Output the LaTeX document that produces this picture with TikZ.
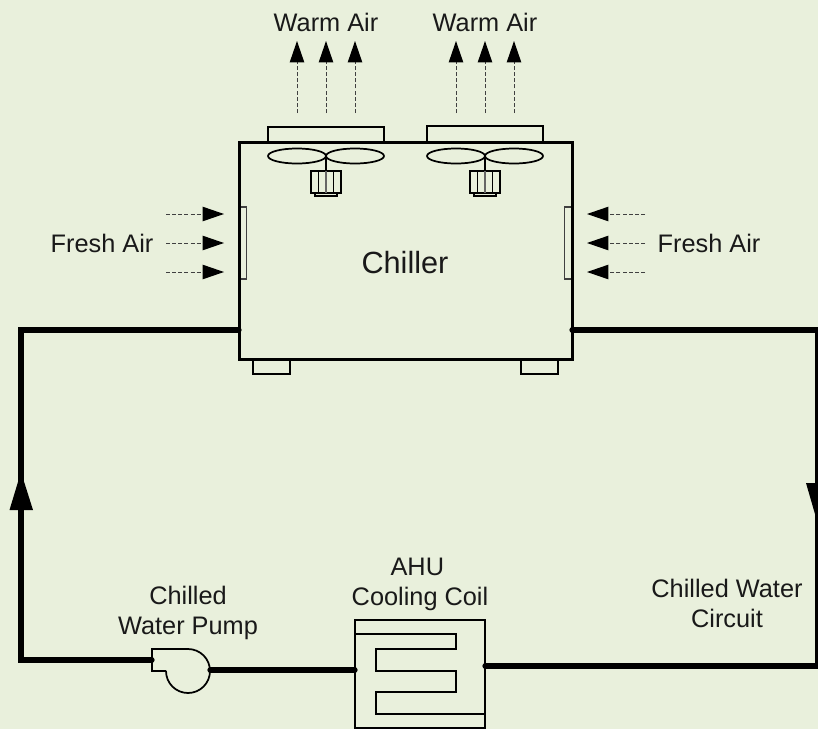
\documentclass[tikz,border=0pt]{standalone}
\usepackage{fontspec}
\setmainfont{Liberation Sans}
\usetikzlibrary{arrows.meta,calc,shapes.geometric}
\definecolor{bg}{HTML}{E9F0DC}
\tikzset{
  x=0.75pt,y=-0.75pt,
  lbl/.style={inner sep=0pt,align=center,font=\fontsize{19pt}{22.5pt}\selectfont,text=black!90},
  heavy/.style={line width=2.25pt,line cap=butt},
  pipe/.style={line width=3.9pt,line cap=round},
  med/.style={line width=1.3pt},
  thin1/.style={line width=0.9pt},
  airflow/.style={line width=0.7pt,dash pattern=on 3pt off 1.6pt,draw=black!75,
     -{Triangle[length=16pt,width=11pt,fill=black,line width=0pt]}},
  boxnode/.style={draw,inner sep=0pt,outer sep=0pt},
  bigtip/.style={fill=black,draw=none},
}
\begin{document}
\begin{tikzpicture}
\useasboundingbox (0,0) rectangle (818,729);
\clip (0,0) rectangle (818,729);
\fill[bg] (0,0) rectangle (818,729);

% feet and caps
\node[boxnode,med,minimum width=27.75pt,minimum height=11.25pt] (footL) at (271.5,366.5) {};
\node[boxnode,med,minimum width=27.75pt,minimum height=11.25pt] (footR) at (539.5,366.5) {};
\node[boxnode,med,minimum width=87pt,minimum height=11.25pt] (capL) at (326,134.5) {};
\node[boxnode,med,minimum width=87pt,minimum height=12pt] (capR) at (485,134) {};
% side panels
\node[boxnode,thin1,draw=black!75,minimum width=5.6pt,minimum height=54pt] (panL) at (243,243) {};
\node[boxnode,thin1,draw=black!75,minimum width=5.6pt,minimum height=54pt] (panR) at (568,243) {};
% chiller body
\node[boxnode,heavy,minimum width=249.75pt,minimum height=162.75pt] (chiller) at (405.5,250.5) {};
\node[lbl,font=\fontsize{23pt}{26pt}\selectfont] (chillerlabel) at (405,263) {Chiller};

% fans
\foreach \n/\c in {A/326,B/485}{
  \node[boxnode,med,shape=ellipse,minimum width=43.5pt,minimum height=11.25pt] (blade\n l) at (\c-29,156) {};
  \node[boxnode,med,shape=ellipse,minimum width=43.5pt,minimum height=11.25pt] (blade\n r) at (\c+29,156) {};
  \node[boxnode,thin1,minimum width=16.5pt,minimum height=2.25pt] (base\n) at (\c,194.5) {};
  \node[boxnode,med,minimum width=22.5pt,minimum height=16.5pt] (motor\n) at (\c,182) {};
  \draw[thin1] (\c-7.5,171) -- (\c-7.5,193);
  \draw[thin1] (\c+7.5,171) -- (\c+7.5,193);
  \draw[thin1,draw=black!60] (\c,171) -- (\c,193);
  \draw[line width=1.4pt] (blade\n l.east) -- (motor\n.north);
}

% warm air arrows
\foreach \n/\c in {1/297,2/326,3/355,4/456,5/485,6/514}{
  \coordinate (ws\n) at (\c,113);
  \coordinate (we\n) at (\c,41);
  \draw[airflow] (ws\n) -- (we\n);
}
% fresh air arrows
\foreach \n/\y in {1/214,2/243,3/272}{
  \coordinate (ls\n) at (166,\y);
  \coordinate (le\n) at (224,\y);
  \draw[airflow] (ls\n) -- (le\n);
  \coordinate (rs\n) at (645,\y);
  \coordinate (re\n) at (587,\y);
  \draw[airflow] (rs\n) -- (re\n);
}

% pump
\coordinate (pumpin) at (152,660);
\coordinate (pumpout) at (210,670);
\draw[med] (166,671) -- (152,671) -- (152,649) -- (188,649) arc[start angle=90,end angle=-180,radius=16.5pt];

% coil
\node[boxnode,med,minimum width=97.5pt,minimum height=81pt] (coil) at (420,674) {};
\draw[med] (355,634) -- (456,634) -- (456,649) -- (376,649) -- (376,671) -- (456,671) -- (456,692) -- (376,692) -- (376,714) -- (485,714);
\coordinate (coilin) at (355,670);
\coordinate (coilout) at (485,666);

% pipes
\coordinate (chL) at (239,330);
\coordinate (chR) at (572,330);
\coordinate (cornerTL) at (21,330);
\coordinate (cornerBL) at (21,660);
\coordinate (cornerTR) at (817.5,330);
\coordinate (cornerBR) at (817.5,666);
\draw[pipe,line join=miter] (chL) -- (cornerTL) -- (cornerBL) -- (pumpin);
\draw[pipe] (pumpout) -- (coilin);
\draw[pipe,line join=miter] (coilout) -- (cornerBR) -- (cornerTR) -- (chR);
% flow arrowheads
\fill[bigtip] (21,472) -- (33,510) -- (9.5,510) -- cycle;
\fill[bigtip] (817,521) -- (806,483) -- (829,483) -- cycle;

% labels
\node[lbl] (warm1) at (326,22) {Warm Air};
\node[lbl] (warm2) at (485,22) {Warm Air};
\node[lbl] (freshL) at (102,243) {Fresh Air};
\node[lbl] (freshR) at (709,243) {Fresh Air};
\node[lbl] (ahu) at (420,584) {\hspace{-4pt}AHU\\Cooling Coil};
\node[lbl] (pumpl) at (188,612.5) {Chilled\\Water Pump};
\node[lbl] (circuit) at (727,603) {Chilled Water\\Circuit};
\end{tikzpicture}
\end{document}
